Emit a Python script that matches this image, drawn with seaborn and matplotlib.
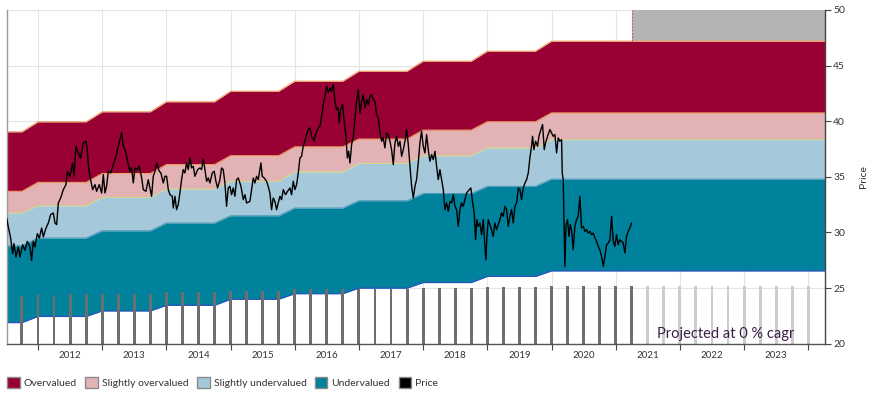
import numpy as np
import seaborn as sns
import matplotlib.pyplot as plt
from matplotlib.patches import Patch

# valuation bands: one level per year (2011..2020), projected flat afterwards
band_years = [2011, 2012, 2013, 2014, 2015, 2016, 2017, 2018, 2019, 2020]
over_top = [39.05, 39.95, 40.85, 41.75, 42.7, 43.6, 44.5, 45.4, 46.3, 47.2]
over_low = [33.7, 34.5, 35.3, 36.1, 36.9, 37.7, 38.4, 39.2, 39.95, 40.75]
slight_low = [31.75, 32.4, 33.15, 33.9, 34.6, 35.45, 36.2, 36.9, 37.6, 38.35]
under_top = [28.8, 29.5, 30.15, 30.85, 31.5, 32.2, 32.85, 33.5, 34.15, 34.8]
under_low = [21.9, 22.45, 22.95, 23.45, 24.0, 24.5, 25.0, 25.5, 26.05, 26.55]

# quarterly bars (actual then projected)
bar_actual = [24.3,
              24.45, 24.4, 24.45, 24.45,
              24.5, 24.5, 24.5, 24.5,
              24.63, 24.63, 24.63, 24.63,
              24.75, 24.75, 24.75, 24.75,
              24.9, 24.9, 24.9, 24.9,
              24.93, 24.93, 24.93, 24.93,
              25.0, 25.0, 25.0, 25.0,
              25.14, 25.14, 25.14, 25.14,
              25.23, 25.23, 25.23, 25.23,
              25.23, 25.23]
bar_projected = [25.2] * 11
bar_first = 2011.75
proj_start = 2021.25

year_labels = ['2012', '2013', '2014', '2015', '2016', '2017',
               '2018', '2019', '2020', '2021', '2022', '2023']

price_years = [
    2011.512, 2011.538, 2011.574, 2011.605, 2011.626, 2011.657, 2011.694, 2011.720,
    2011.761, 2011.797, 2011.834, 2011.875, 2011.901, 2011.927, 2011.953, 2011.990,
    2012.021, 2012.057, 2012.083, 2012.125, 2012.161, 2012.197, 2012.239, 2012.265,
    2012.291, 2012.317, 2012.353, 2012.395, 2012.436, 2012.457, 2012.498, 2012.540,
    2012.561, 2012.592, 2012.628, 2012.664, 2012.706, 2012.748, 2012.768, 2012.789,
    2012.820, 2012.851, 2012.888, 2012.914, 2012.955, 2012.992, 2013.018, 2013.044,
    2013.069, 2013.095, 2013.132, 2013.173, 2013.215, 2013.251, 2013.277, 2013.303,
    2013.329, 2013.355, 2013.381, 2013.407, 2013.433, 2013.459, 2013.485, 2013.511,
    2013.547, 2013.578, 2013.615, 2013.641, 2013.682, 2013.718, 2013.755, 2013.770,
    2013.796, 2013.822, 2013.848, 2013.890,
    2013.915, 2013.952, 2013.978, 2014.004, 2014.030, 2014.056, 2014.092, 2014.108,
    2014.134, 2014.159, 2014.185, 2014.211, 2014.237, 2014.263, 2014.289, 2014.315,
    2014.341, 2014.367, 2014.393, 2014.419, 2014.445, 2014.487, 2014.523, 2014.549,
    2014.575, 2014.601, 2014.627, 2014.653, 2014.679, 2014.715, 2014.746, 2014.772,
    2014.798, 2014.834, 2014.860, 2014.886, 2014.912, 2014.938, 2014.964, 2014.990,
    2015.016, 2015.042, 2015.068, 2015.094, 2015.120, 2015.162, 2015.198, 2015.224,
    2015.250, 2015.302, 2015.328, 2015.354, 2015.380, 2015.406, 2015.432, 2015.473,
    2015.494, 2015.525, 2015.561, 2015.587, 2015.613, 2015.639, 2015.665, 2015.691,
    2015.717, 2015.743, 2015.769, 2015.795, 2015.821, 2015.857, 2015.888, 2015.925,
    2015.951, 2015.977, 2016.003, 2016.029, 2016.055, 2016.081, 2016.107, 2016.132,
    2016.158, 2016.184, 2016.210, 2016.236, 2016.262, 2016.304,
    2016.315, 2016.341, 2016.367, 2016.393, 2016.419, 2016.445, 2016.471, 2016.497,
    2016.523, 2016.549, 2016.574, 2016.600, 2016.626, 2016.652, 2016.678, 2016.694,
    2016.715, 2016.746, 2016.767, 2016.798, 2016.819, 2016.839, 2016.860, 2016.886,
    2016.912, 2016.938, 2016.964, 2016.990, 2017.016, 2017.042, 2017.068, 2017.094,
    2017.120, 2017.146, 2017.172, 2017.198, 2017.224, 2017.249, 2017.275, 2017.301,
    2017.327, 2017.353, 2017.379, 2017.405, 2017.431, 2017.457, 2017.483, 2017.509,
    2017.535, 2017.561, 2017.587, 2017.613, 2017.639, 2017.665, 2017.691, 2017.717,
    2017.743, 2017.769, 2017.795, 2017.821, 2017.847, 2017.873, 2017.898, 2017.924,
    2017.950, 2017.976, 2018.002, 2018.028, 2018.054, 2018.080, 2018.106, 2018.132,
    2018.158, 2018.184, 2018.210, 2018.236, 2018.262, 2018.288, 2018.314, 2018.340,
    2018.366, 2018.392, 2018.418, 2018.444, 2018.470, 2018.496, 2018.522, 2018.547,
    2018.573, 2018.599, 2018.625, 2018.651, 2018.677, 2018.719,
    2018.744, 2018.765, 2018.796, 2018.817, 2018.838, 2018.859, 2018.885, 2018.911,
    2018.937, 2018.963, 2018.978, 2018.994, 2019.014, 2019.040, 2019.066, 2019.092,
    2019.118, 2019.144, 2019.170, 2019.196, 2019.222, 2019.248, 2019.274, 2019.300,
    2019.326, 2019.352, 2019.378, 2019.404, 2019.430, 2019.456, 2019.482, 2019.508,
    2019.534, 2019.560, 2019.586, 2019.612, 2019.638, 2019.663, 2019.689, 2019.705,
    2019.726, 2019.752, 2019.783, 2019.804, 2019.835, 2019.861, 2019.887, 2019.907,
    2019.939, 2019.975, 2020.001, 2020.027, 2020.053, 2020.079, 2020.105, 2020.131,
    2020.157, 2020.167, 2020.183, 2020.193, 2020.209, 2020.224, 2020.250, 2020.271,
    2020.292, 2020.312, 2020.338, 2020.364, 2020.390, 2020.416, 2020.442, 2020.468,
    2020.494, 2020.520, 2020.546, 2020.572, 2020.598, 2020.624, 2020.650, 2020.676,
    2020.702, 2020.728, 2020.754, 2020.780, 2020.806, 2020.832, 2020.858, 2020.884,
    2020.910, 2020.936, 2020.961, 2020.987, 2021.013, 2021.039, 2021.065, 2021.091,
    2021.117, 2021.143, 2021.169, 2021.195, 2021.221, 2021.247,
]
price_values = [
    31.3, 30.5, 29.5, 28.1, 29.0, 27.8, 28.7, 27.8,
    28.9, 28.4, 29.2, 28.7, 27.5, 29.2, 28.7, 29.9,
    29.5, 30.4, 29.6, 30.4, 30.85, 31.6, 31.75, 30.85,
    30.7, 32.65, 33.1, 33.85, 34.3, 35.5, 35.05, 36.25,
    35.05, 37.75, 37.15, 36.7, 38.05, 38.2, 37.45, 35.8,
    34.75, 33.85, 34.3, 33.7, 34.3, 33.55, 35.2, 33.55,
    34.15, 35.5, 35.35, 36.1, 36.85, 37.75, 38.35, 39.0,
    37.75, 37.45, 36.85, 36.1, 35.5, 35.8, 34.45, 35.8,
    35.65, 35.95, 34.9, 33.85, 33.7, 34.75, 33.7, 33.25,
    35.05, 35.5, 36.25, 35.5,
    35.35, 34.45, 35.05, 35.05, 33.85, 33.4, 33.25, 32.2,
    33.25, 32.05, 32.5, 33.55, 34.75, 35.65, 35.35, 36.25,
    35.65, 36.7, 35.8, 35.95, 35.05, 35.65, 35.8, 35.65,
    36.6, 35.65, 34.6, 34.9, 34.45, 35.35, 35.5, 34.6,
    34.0, 34.75, 35.8, 35.65, 34.45, 32.35, 34.0, 34.15,
    33.4, 34.0, 33.25, 34.75, 34.9, 34.15, 32.95, 33.4,
    32.65, 32.8, 33.85, 34.9, 34.45, 35.05, 34.75, 36.25,
    35.05, 34.9, 34.6, 34.15, 33.55, 32.05, 33.1, 32.8,
    32.05, 32.65, 33.25, 32.95, 33.85, 33.4, 33.7, 34.0,
    33.4, 34.6, 33.85, 34.3, 35.35, 36.7, 36.85, 37.75,
    38.2, 38.8, 39.25, 39.4, 38.65, 38.2,
    38.65, 39.1, 39.4, 39.55, 40.45, 41.5, 42.25, 43.15,
    42.55, 43.0, 42.7, 43.3, 41.8, 41.05, 41.2, 39.85,
    41.05, 41.5, 40.15, 38.65, 36.7, 37.3, 36.25, 37.9,
    38.65, 40.15, 41.8, 42.85, 40.75, 41.8, 42.4, 41.2,
    41.95, 41.5, 42.25, 42.4, 41.95, 41.8, 40.6, 40.3,
    39.1, 38.2, 38.5, 37.6, 38.95, 38.8, 38.2, 37.45,
    36.1, 38.05, 38.65, 37.75, 38.2, 36.85, 37.45, 38.2,
    39.25, 37.9, 35.95, 34.15, 33.1, 34.15, 34.75, 36.25,
    38.05, 39.1, 37.75, 37.15, 38.8, 37.45, 36.4, 37.0,
    36.55, 37.3, 35.95, 34.75, 35.65, 34.75, 33.85, 32.05,
    32.65, 31.9, 32.8, 32.65, 33.4, 32.35, 32.05, 30.55,
    32.05, 32.65, 32.35, 32.95, 33.55, 33.85,
    34.0, 32.95, 31.75, 29.35, 31.15, 30.55, 30.85, 29.8,
    31.15, 28.75, 27.55, 29.65, 31.15, 30.7, 30.25, 29.65,
    30.85, 30.25, 30.7, 31.15, 31.75, 31.45, 32.35, 32.05,
    30.55, 31.45, 32.05, 30.85, 32.35, 32.65, 34.0, 33.85,
    32.95, 34.0, 34.45, 34.75, 35.35, 36.7, 37.75, 38.65,
    37.45, 38.2, 37.75, 38.65, 39.25, 39.7, 37.45, 38.05,
    38.65, 39.25, 38.95, 38.65, 38.8, 37.15, 38.5, 38.2,
    38.35, 35.35, 34.75, 31.45, 26.95, 30.55, 31.15, 29.65,
    30.7, 30.25, 28.45, 30.55, 31.15, 31.45, 33.25, 30.4,
    30.55, 30.1, 30.25, 29.95, 30.1, 29.8, 29.95, 29.5,
    29.2, 28.75, 28.45, 27.85, 26.95, 27.85, 28.9, 29.05,
    29.35, 31.45, 29.2, 28.75, 29.8, 28.9, 29.35, 29.2,
    29.05, 28.15, 29.65, 30.1, 30.4, 30.85,
]

sns.set_theme(style="white")
plt.rcParams['font.family'] = ['Lato', 'DejaVu Sans']
text_col = '#333333'

x_min, x_max = 2011.517, 2024.258

# step shaped band edges: flat through Q3, ramp over Q4 to next year's level
def band_edge(levels):
    xs, ys = [], []
    for i, (yr, lv) in enumerate(zip(band_years, levels)):
        x0 = x_min if i == 0 else yr
        x1 = x_max if i == len(levels) - 1 else yr + 0.75
        xs += [x0, x1]
        ys += [lv, lv]
    return np.array(xs), np.array(ys)

fig = plt.figure(figsize=(8.71, 3.98), dpi=100)
ax = fig.add_axes([0.008, 0.1364, 0.939, 0.8385])

# grid
for yr in range(2012, 2025):
    ax.axvline(yr, color='#e4e4e4', lw=0.8, zorder=0.3)
for lv in range(25, 51, 5):
    ax.axhline(lv, color='#e4e4e4', lw=0.8, zorder=0.3)

bx, b_over_top = band_edge(over_top)
_, b_over_low = band_edge(over_low)
_, b_slight_low = band_edge(slight_low)
_, b_under_top = band_edge(under_top)
_, b_under_low = band_edge(under_low)

c_over, c_sover, c_sunder, c_under = '#990033', '#e3b2b5', '#a5c9da', '#00819c'
ax.fill_between(bx, b_over_low, b_over_top, color=c_over, lw=0, zorder=1)
ax.fill_between(bx, b_slight_low, b_over_low, color=c_sover, lw=0, zorder=1)
ax.fill_between(bx, b_under_top, b_slight_low, color=c_sunder, lw=0, zorder=1)
ax.fill_between(bx, b_under_low, b_under_top, color=c_under, lw=0, zorder=1)
ax.plot(bx, b_over_top, color='#f0a060', lw=0.8, zorder=1.1)
ax.plot(bx, b_over_low, color='#f0a060', lw=0.8, zorder=1.1)
ax.plot(bx, b_slight_low, color='#cfd88a', lw=0.8, zorder=1.1)
ax.plot(bx, b_under_top, color='#3a8fb0', lw=0.6, zorder=1.1)
ax.plot(bx, b_under_low, color='#2a55c0', lw=0.9, zorder=1.1)

# projected region
ax.fill_between([proj_start, x_max], over_top[-1], 50, color='#b4b4b4', lw=0, zorder=1)
ax.plot([proj_start, proj_start], [over_top[-1], 50], color='#d05060', lw=0.8,
        ls=(0, (1.5, 1.5)), zorder=1.2)

# quarterly bars
bar_x_act = [bar_first + 0.25 * i for i in range(len(bar_actual))]
bar_x_proj = [bar_x_act[-1] + 0.25 * (i + 1) for i in range(len(bar_projected))]
ax.bar(bar_x_act, np.array(bar_actual) - 20, bottom=20, width=0.045,
       color='#6e6e6e', edgecolor='none', linewidth=0, zorder=2)
ax.bar(bar_x_proj, np.array(bar_projected) - 20, bottom=20, width=0.045,
       color='#cccccc', edgecolor='none', linewidth=0, zorder=2)

# price line
sns.lineplot(x=price_years, y=price_values, ax=ax, color='black', lw=1.0,
             estimator=None, sort=False, zorder=3)

ax.text(0.963, 0.008, 'Projected at 0 % cagr', transform=ax.transAxes,
        ha='right', va='bottom', fontsize=10.5, color='#3a1f45', zorder=4)

ax.set_xlim(x_min, x_max)
ax.set_ylim(20, 50)
ax.set_xticks(range(2012, 2025))
ax.set_xticklabels([])
ax.set_xticks([int(l) + 0.5 for l in year_labels], minor=True)
ax.set_xticklabels(year_labels, minor=True)
ax.tick_params(axis='x', which='major', length=4, width=0.8, color='#444444',
               direction='out', bottom=True)
ax.tick_params(axis='x', which='minor', length=0, labelsize=7, labelcolor=text_col, pad=5)

ax.yaxis.tick_right()
ax.yaxis.set_label_position('right')
ax.set_yticks(range(20, 51, 5))
ax.tick_params(axis='y', length=4, width=0.8, color='#444444', direction='out', right=True,
               labelsize=7.5, labelcolor=text_col, pad=2)
ax.set_ylabel('Price', fontsize=7.5, color=text_col, labelpad=10)
ax.set_xlabel('')

ax.spines['top'].set_visible(False)
ax.spines['left'].set_color('#999999')
ax.spines['left'].set_linewidth(1.0)
ax.spines['bottom'].set_color('#555555')
ax.spines['bottom'].set_linewidth(1.0)
ax.spines['right'].set_color('#444444')
ax.spines['right'].set_linewidth(1.0)
ax.spines['right'].set_linestyle((0, (2, 1)))

handles = [Patch(facecolor=c, edgecolor='#8a8a8a', lw=1) for c in
           [c_over, c_sover, c_sunder, c_under, 'black']]
labels = ['Overvalued', 'Slightly overvalued', 'Slightly undervalued', 'Undervalued', 'Price']
fig.legend(handles, labels, loc='center left', bbox_to_anchor=(0.0, 0.038), ncol=5,
           frameon=False, fontsize=7.5, handlelength=1.2, handleheight=1.2,
           handletextpad=0.4, columnspacing=0.8, borderaxespad=0.3,
           labelcolor=text_col)

fig.savefig('out.png', dpi=100)
